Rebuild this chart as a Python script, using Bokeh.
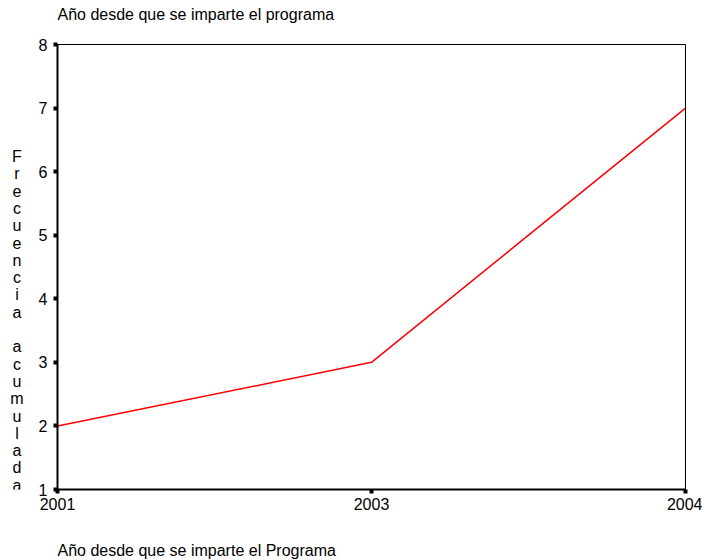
from bokeh.plotting import figure
from bokeh.models import Range1d, FixedTicker
from bokeh.core.properties import value
from bokeh.layouts import row, column
from bokeh.embed import file_html
from bokeh.resources import INLINE

years = ["2001", "2003", "2004"]
cumulative = [2, 3, 7]
y_ticks = [1, 2, 3, 4, 5, 6, 7, 8]
title_text = "Año desde que se imparte el programa"
x_label_text = "Año desde que se imparte el Programa"
y_label_text = "Frecuencia acumulada"

FONT = "Liberation Sans"
FS = "16px"
W = 702
TOP = 34       # height of the title strip
MID = 481      # height of the plot row
BOT = 44       # height of the bottom label strip
LW = 30        # width of the y-label strip
FRAME_TOP = 44
FRAME_BOTTOM = 489
LETTER_PITCH = 17.3
FIRST_BASELINE = 156

xpos = list(range(len(years)))


def text_strip(width, height, y_range=None):
    f = figure(width=width, height=height, output_backend="svg", toolbar_location=None,
               x_range=Range1d(0, width),
               y_range=y_range if y_range is not None else Range1d(height, 0), title=None,
               min_border=0, min_border_left=0, min_border_right=0,
               min_border_top=0, min_border_bottom=0)
    f.axis.visible = False
    f.grid.visible = False
    f.outline_line_color = None
    f.background_fill_color = "white"
    f.border_fill_color = "white"
    return f


top = text_strip(W, TOP)
top.text(x=[57], y=[14], text=[title_text], text_font=value(FONT), text_font_size=value(FS),
         text_align="left", text_baseline="middle", text_color="black")

bottom = text_strip(W, BOT)
bottom.text(x=[57], y=[35], text=[x_label_text], text_font=value(FONT), text_font_size=value(FS),
            text_align="left", text_baseline="middle", text_color="black")

# stacked (one letter per line) y-axis label; this strip's frame is aligned
# with the main plot's frame by the row layout, so use page coordinates of the frame
letters = list(y_label_text)
letter_y = [FIRST_BASELINE + i * LETTER_PITCH for i in range(len(letters))]
q = text_strip(LW, MID, y_range=Range1d(FRAME_BOTTOM, FRAME_TOP))
q.text(x=[16.5] * len(letters), y=letter_y, text=letters, text_font=value(FONT),
       text_font_size=value(FS), text_align="center", text_baseline="alphabetic",
       text_color="black")

p = figure(width=W - LW, height=MID, output_backend="svg", toolbar_location=None, title=None,
           x_range=Range1d(0, len(years) - 1), y_range=Range1d(1, 8),
           min_border_left=57 - LW, min_border_right=W - 685,
           min_border_top=FRAME_TOP - TOP,
           min_border_bottom=MID - (FRAME_BOTTOM - TOP))
p.background_fill_color = "white"
p.border_fill_color = "white"
p.outline_line_color = "black"
p.outline_line_width = 1
p.xgrid.visible = False
p.ygrid.visible = False

p.line(xpos, cumulative, line_color="#ff0000", line_width=1.5)

for ax in (p.xaxis[0], p.yaxis[0]):
    ax.axis_line_width = 2
    ax.axis_line_color = "black"
    ax.major_tick_line_width = 4
    ax.major_tick_line_color = "black"
    ax.major_tick_line_cap = "butt"
    ax.major_tick_out = 4
    ax.major_tick_in = 0
    ax.minor_tick_line_color = None
    ax.major_label_text_font = FONT
    ax.major_label_text_font_size = FS
    ax.major_label_text_color = "black"

p.xaxis.ticker = FixedTicker(ticks=xpos)
p.xaxis.major_label_overrides = {i: y for i, y in enumerate(years)}
p.xaxis.major_label_standoff = 4
p.yaxis.ticker = FixedTicker(ticks=y_ticks)
p.yaxis.major_label_standoff = 6

layout = column(top, row(q, p, spacing=0), bottom, spacing=0)
open("out.html", "w").write(file_html(layout, INLINE))
